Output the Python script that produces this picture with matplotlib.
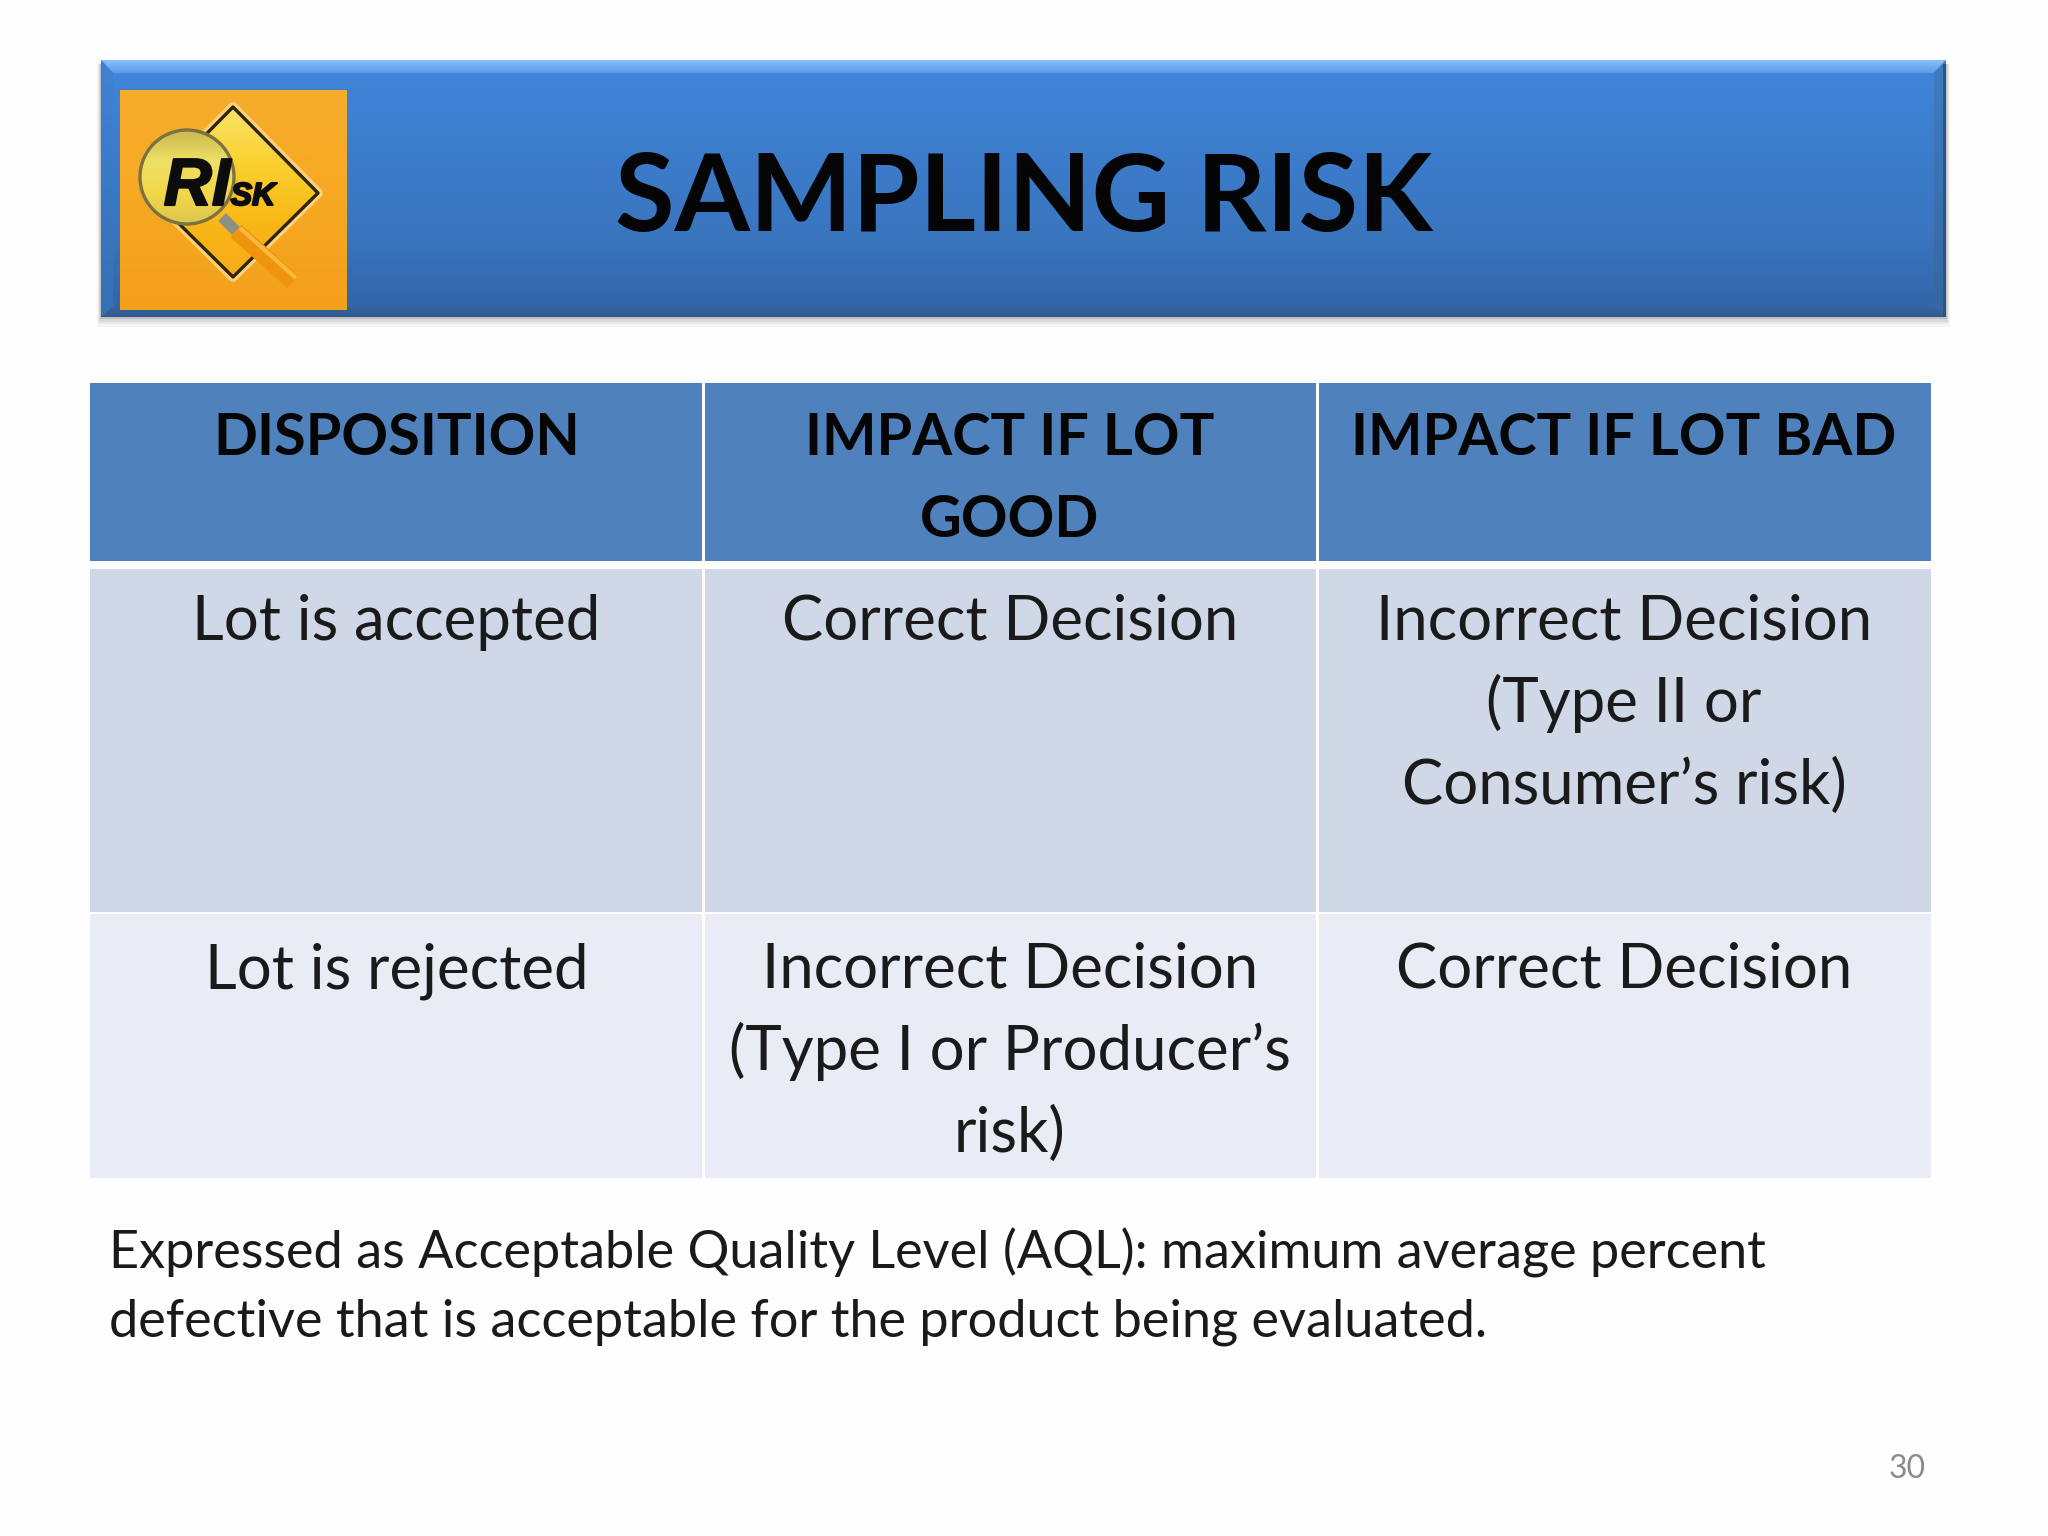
import matplotlib
matplotlib.use("Agg")
import matplotlib.pyplot as plt
import matplotlib.patheffects as pe
import numpy as np
from matplotlib.colors import LinearSegmentedColormap
from matplotlib.patches import Circle, Polygon, Rectangle

title = "SAMPLING RISK"
headers = [["DISPOSITION"], ["IMPACT IF LOT", "GOOD"], ["IMPACT IF LOT BAD"]]
row1 = [["Lot is accepted"], ["Correct Decision"], ["Incorrect Decision", "(Type II or", "Consumer\u2019s risk)"]]
row2 = [["Lot is rejected"], ["Incorrect Decision", "(Type I or Producer\u2019s", "risk)"], ["Correct Decision"]]
footer = ["Expressed as Acceptable Quality Level (AQL): maximum average percent",
          "defective that is acceptable for the product being evaluated."]
page_no = "30"

plt.rcParams['font.family'] = ['Lato', 'DejaVu Sans']

W, H = 2048, 1536
fig = plt.figure(figsize=(W / 100, H / 100), dpi=100, facecolor='#fefefe')
ax = fig.add_axes([0, 0, 1, 1])
ax.axis('off')


def vgrad(x0, x1, y0, y1, cols, z=2, clip=None):
    cm = LinearSegmentedColormap.from_list('g', cols)
    im = ax.imshow(np.linspace(0, 1, 256).reshape(-1, 1), cmap=cm, extent=(x0, x1, y1, y0),
                   aspect='auto', zorder=z, interpolation='bilinear')
    if clip is not None:
        clip.set_transform(ax.transData)
        im.set_clip_path(clip)
    return im


# banner shadow
for i, a in enumerate([0.04, 0.06, 0.09, 0.14]):
    g = 8 - i * 2
    ax.add_patch(Rectangle((101 - g / 2, 64), 1845 + g, 253 + g * 1.2, color='#303030', alpha=a, lw=0, zorder=1))

# banner body and bevels
vgrad(101, 1946, 60, 317, ['#4186da', '#3c7dcc', '#3a76c0', '#3163a6'])
vgrad(101, 1946, 60, 73, ['#8cc0f6', '#5b9bea'], z=3,
      clip=Polygon([(101, 60), (1946, 60), (1934, 73), (113, 73)]))
vgrad(101, 1946, 306, 317, ['#37659f', '#2f5a8c'], z=3,
      clip=Polygon([(113, 306), (1934, 306), (1946, 317), (101, 317)]))
vgrad(101, 113, 60, 317, ['#3f82d4', '#3670b4'], z=3,
      clip=Polygon([(101, 60), (113, 73), (113, 306), (101, 317)]))
vgrad(1934, 1946, 60, 317, ['#3f7cc4', '#35679f'], z=3,
      clip=Polygon([(1946, 60), (1934, 73), (1934, 306), (1946, 317)]))
ax.add_patch(Rectangle((1943, 64), 3, 253, color='#2a5685', lw=0, zorder=4))

# logo
vgrad(120, 347, 90, 310, ['#f6ad2c', '#f6a823', '#f4a01c'], z=5)
diamond = [(233, 107), (318, 193), (233, 277), (148, 193)]
ax.add_patch(Polygon(diamond, closed=True, facecolor='none', edgecolor='#fbd27a', lw=7, joinstyle='round', zorder=6))
vgrad(148, 318, 107, 277, ['#fbe36a', '#fad02f', '#f9b916', '#f8a91c'], z=6, clip=Polygon(diamond))
ax.add_patch(Polygon(diamond, closed=True, facecolor='none', edgecolor='#2e2508', lw=2.4, joinstyle='round', zorder=7))
ax.plot([222, 236], [217, 231], color='#8f8f86', lw=8, solid_capstyle='butt', zorder=8)
ax.plot([236, 293], [231, 282], color='#f0940f', lw=12, solid_capstyle='butt', zorder=8)
ax.plot([240, 296], [228, 278], color='#f9b93a', lw=3, solid_capstyle='butt', zorder=8)
lens = Circle((187, 177), 47)
vgrad(140, 234, 130, 224, ['#c9b94f', '#efe065', '#f2d848', '#dcc64e'], z=9, clip=lens)
ax.add_patch(Circle((187, 177), 47, facecolor='none', edgecolor='#7a7242', lw=2.4, zorder=10))
heavy = [pe.withStroke(linewidth=1.5, foreground='#0c0c0c')]
ax.text(197, 205, "RI", fontsize=48, fontweight='bold', style='italic', family='Liberation Sans',
        ha='center', va='baseline', color='#0c0c0c', zorder=11, path_effects=heavy)
ax.text(253, 205, "SK", fontsize=23, fontweight='bold', style='italic', family='Liberation Sans',
        ha='center', va='baseline', color='#0c0c0c', zorder=11, path_effects=heavy)

ax.text(1024, 231, title, fontsize=78, fontweight='bold', ha='center', va='baseline', color='#050505', zorder=6)

# table
col_x = [90, 703, 1317, 1931]
ax.add_patch(Rectangle((col_x[0], 383), col_x[3] - col_x[0], 178, color='#4f81bd', lw=0, zorder=2))
ax.add_patch(Rectangle((col_x[0], 569), col_x[3] - col_x[0], 343, color='#d0d8e8', lw=0, zorder=2))
ax.add_patch(Rectangle((col_x[0], 914), col_x[3] - col_x[0], 264, color='#e9ebf5', lw=0, zorder=2))
for x in col_x[1:3]:
    ax.plot([x, x], [383, 1178], color='white', lw=2.2, zorder=3)

centers = [(col_x[i] + col_x[i + 1]) / 2 for i in range(3)]
for cell, cx in zip(headers, centers):
    for line, yb in zip(cell, [455, 537]):
        ax.text(cx, yb, line, fontsize=41.6, fontweight='bold', ha='center', va='baseline', color='#050505', zorder=5)
for cell, cx in zip(row1, centers):
    for line, yb in zip(cell, [640, 722, 804]):
        ax.text(cx, yb, line, fontsize=44.5, ha='center', va='baseline', color='#1a1a1a', zorder=5)
for cell, cx in zip(row2, centers):
    for line, yb in zip(cell, [988, 1070, 1152]):
        ax.text(cx, yb, line, fontsize=44.5, ha='center', va='baseline', color='#1a1a1a', zorder=5)

for line, yb in zip(footer, [1269, 1336]):
    ax.text(109, yb, line, fontsize=37.6, ha='left', va='baseline', color='#1a1a1a', zorder=5)

ax.text(1926, 1478, page_no, fontsize=23, ha='right', va='baseline', color='#8b8b8b', zorder=5)

ax.set_xlim(0, W)
ax.set_ylim(H, 0)

fig.savefig("out.png", dpi=100, facecolor=fig.get_facecolor())
